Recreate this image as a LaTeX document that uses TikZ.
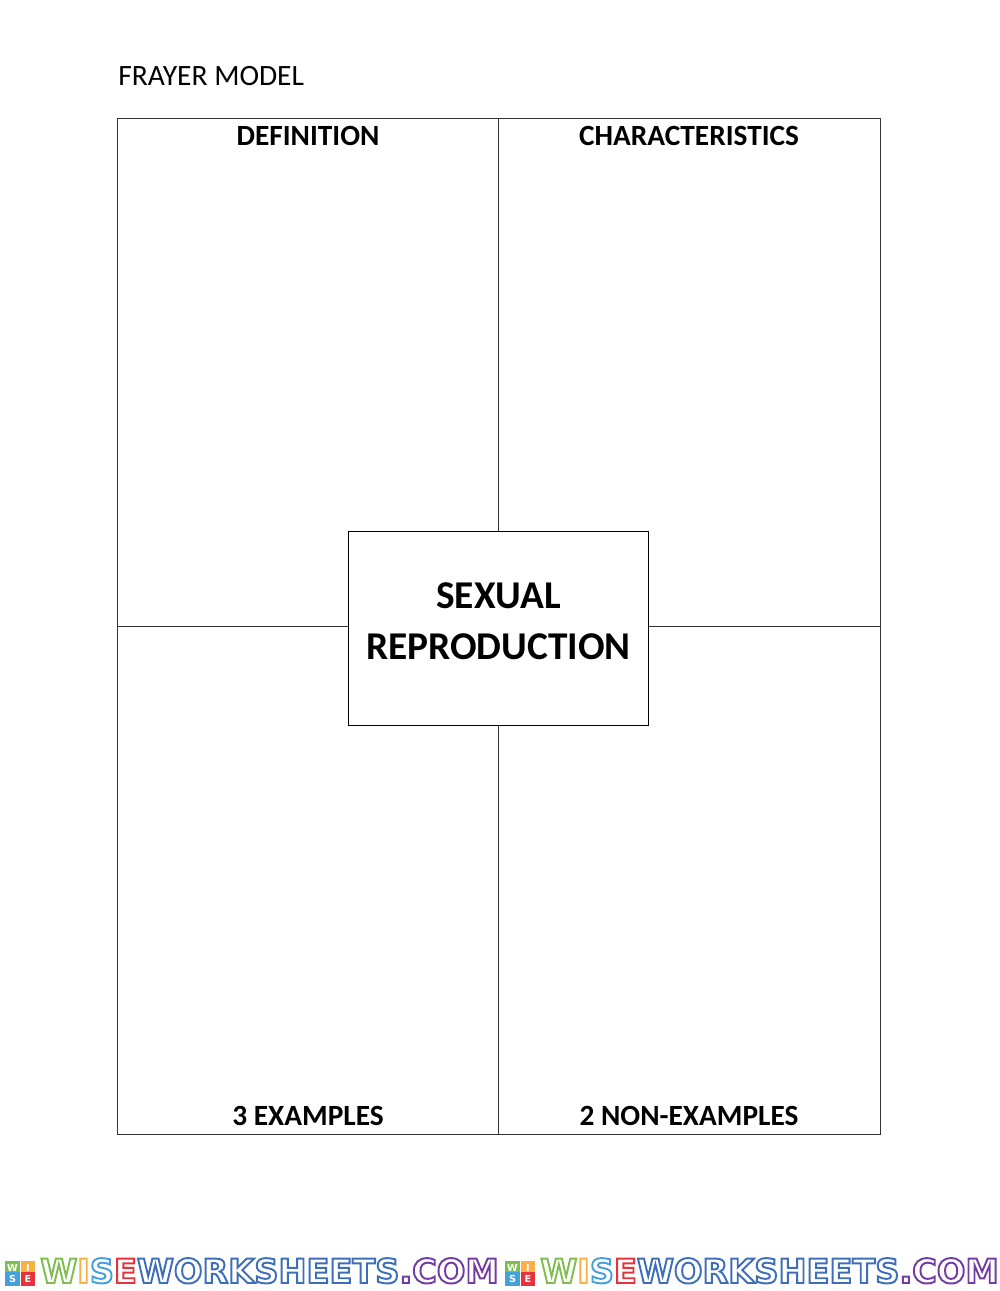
\documentclass[tikz,border=0pt]{standalone}
\usepackage{fontspec}
\setmainfont{Carlito}
\newfontfamily\stampfont{DejaVu Sans}
\usetikzlibrary{positioning}
\definecolor{stampgreen}{RGB}{126,190,80}
\definecolor{stamporange}{RGB}{245,176,70}
\definecolor{stampsky}{RGB}{70,160,220}
\definecolor{stampred}{RGB}{230,50,60}
\definecolor{stampblue}{RGB}{60,110,185}
\definecolor{stamppurple}{RGB}{115,60,165}
\tikzset{
  cellbox/.style={shape=rectangle,draw=black!80,line width=0.5pt,inner sep=0pt,outer sep=0pt,minimum height=10.16cm},
  headlabel/.style={anchor=base,font=\bfseries\fontsize{16.7}{19}\selectfont},
  termlabel/.style={anchor=base,font=\bfseries\fontsize{22.4}{25}\selectfont},
  stamptile/.style={shape=rectangle,inner sep=0pt,minimum size=0.29cm,text=white,font=\stampfont\bfseries\fontsize{5.5}{6}\selectfont},
  stampword/.style={anchor=base west,inner sep=0pt,font=\stampfont\bfseries\fontsize{19.1}{21}\selectfont}
}
\newcommand{\stamptext}{\special{pdf:code 1 Tr 1.1 w}\textcolor{stampgreen}{W}\textcolor{stamporange}{I}\textcolor{stampsky}{S}\textcolor{stampred}{E}\textcolor{stampblue}{WORKSHEETS}\textcolor{stamppurple}{.COM}\special{pdf:code 0 Tr}}
\begin{document}
\begin{tikzpicture}[x=0.02cm,y=-0.02cm]
\useasboundingbox (0,0) rectangle (1000,1291);
\node [anchor=base west,inner sep=0pt,font=\fontsize{16.8}{19}\selectfont] (title) at (118,86) {FRAYER MODEL};
\path
(308,372.5) node [cellbox,minimum width=7.62cm](def) {}
(689.5,372.5) node [cellbox,minimum width=7.64cm](cha) {}
(308,880.5) node [cellbox,minimum width=7.62cm](exa) {}
(689.5,880.5) node [cellbox,minimum width=7.64cm](non) {};
\node [shape=rectangle,draw,fill=white,line width=0.55pt,inner sep=0pt,outer sep=0pt,minimum width=6cm,minimum height=3.88cm] (term) at (498.5,628.5) {};
\node [termlabel] (sexual) at (498.5,608) {SEXUAL};
\node [termlabel] (repro) at (498.5,659) {REPRODUCTION};
\node [headlabel] (deflabel) at (308,145.5) {DEFINITION};
\node [headlabel] (chalabel) at (689,145.5) {CHARACTERISTICS};
\node [headlabel] (exalabel) at (308,1125.5) {3 EXAMPLES};
\node [headlabel] (nonlabel) at (689,1125.5) {2 NON-EXAMPLES};
\foreach \n/\x in {a/5,b/505}{
  \path
  (\x+7.5,1268) node [stamptile,fill=stampgreen](\n w) {W}
  (\x+23,1268) node [stamptile,fill=stamporange](\n i) {I}
  (\x+7.5,1279) node [stamptile,fill=stampsky](\n s) {S}
  (\x+23,1279) node [stamptile,fill=stampred](\n e) {E};
  \node [stampword] (\n word) at (\x+35,1283) {\stamptext};
}
\end{tikzpicture}
\end{document}
